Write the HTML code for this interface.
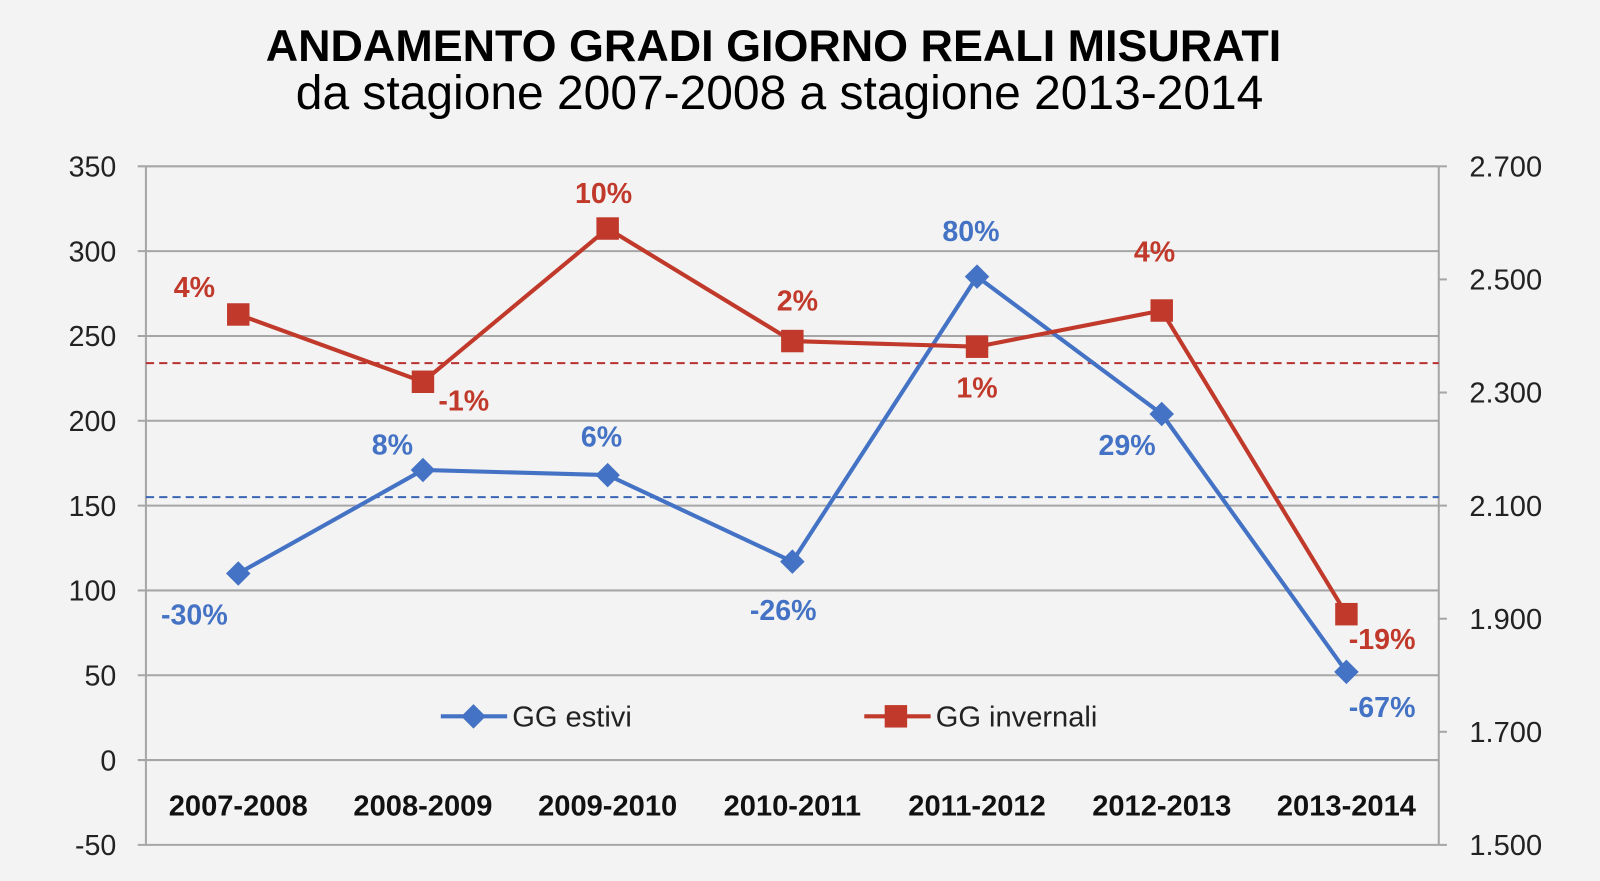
<!DOCTYPE html>
<html><head><meta charset="utf-8"><style>
body{margin:0;background:#f3f3f3;}
svg{display:block;font-family:"Liberation Sans",sans-serif;}
</style></head><body>
<svg width="1600" height="881" viewBox="0 0 1600 881">
<rect width="1600" height="881" fill="#f3f3f3"/>
<g transform="scale(1.0204)">
<text x="758" y="60" text-anchor="middle" font-size="44" font-weight="bold" fill="#000">ANDAMENTO GRADI GIORNO REALI MISURATI</text>
<text x="764" y="107" text-anchor="middle" font-size="47" fill="#000">da stagione 2007-2008 a stagione 2013-2014</text>
<g id="plot"></g>
</g>
</svg>
<script>
const categories=["2007-2008","2008-2009","2009-2010","2010-2011","2011-2012","2012-2013","2013-2014"];
const estivi=[110,171,168,117,285,204,52];
const invernali=[2438,2319,2590,2391,2381,2445,1908];
const estiviPct=["-30%","8%","6%","-26%","80%","29%","-67%"];
const invernaliPct=["4%","-1%","10%","2%","1%","4%","-19%"];
const estiviAvg=155;
const invernaliAvg=2352;
const leftTicks=[-50,0,50,100,150,200,250,300,350];
const rightTicks=[1500,1700,1900,2100,2300,2500,2700];
const estiviOff=[[-43,40],[-30,-25],[-6,-38],[-9,47],[-6,-45],[-34,30],[35,34]];
const invernaliOff=[[-43,-27],[40,18],[-4,-35],[5,-40],[0,40],[-7,-58],[35,24]];

const NS="http://www.w3.org/2000/svg";
const g=document.getElementById('plot');
const X0=143,X1=1410,YT=163,YB=828;
const yL=v=>YB-(v+50)/400*(YB-YT);
const yR=v=>YB-(v-1500)/1200*(YB-YT);
const xC=i=>X0+(i+0.5)*(X1-X0)/categories.length;
function el(t,a,p){const e=document.createElementNS(NS,t);for(const k in a)e.setAttribute(k,a[k]);(p||g).appendChild(e);return e;}
leftTicks.forEach(v=>{
 const l=el('line',{x1:X0-8,x2:X1,y1:yL(v),y2:yL(v),stroke:'#a6a6a6','stroke-width':2});
 
 
 const t=el('text',{x:114,y:yL(v)+10,'text-anchor':'end','font-size':28,fill:'#222'});
 t.textContent=v;
 
 
});
rightTicks.forEach(v=>{
 const t=el('text',{x:1440,y:yR(v)+10,'font-size':28.5,fill:'#222'});
 t.textContent=(v/1000).toFixed(3);
 
 
 const l=el('line',{x1:X1,x2:X1+8,y1:yR(v),y2:yR(v),stroke:'#a6a6a6','stroke-width':2});
 
 
});
const la=el('line',{x1:X0,x2:X0,y1:YT,y2:YB,stroke:'#a6a6a6','stroke-width':2});


const ra=el('line',{x1:X1,x2:X1,y1:YT,y2:YB,stroke:'#a6a6a6','stroke-width':2});


categories.forEach((c,i)=>{
 const t=el('text',{x:xC(i),y:799,'text-anchor':'middle','font-size':28.5,'font-weight':'bold',fill:'#111'});
 t.textContent=c;
 
 
});
const da=el('line',{x1:X0,x2:X1,y1:yL(estiviAvg),y2:yL(estiviAvg),stroke:'#3a64b4','stroke-width':2,'stroke-dasharray':'8,5'});


const db=el('line',{x1:X0,x2:X1,y1:yR(invernaliAvg),y2:yR(invernaliAvg),stroke:'#b83030','stroke-width':2,'stroke-dasharray':'8,5'});


const BLUE='#4472c4',RED='#c0392b';
const pb=el('polyline',{points:estivi.map((v,i)=>xC(i)+','+yL(v)).join(' '),fill:'none',stroke:BLUE,'stroke-width':4});


const pr=el('polyline',{points:invernali.map((v,i)=>xC(i)+','+yR(v)).join(' '),fill:'none',stroke:RED,'stroke-width':4});


function diamond(x,y,s){return el('path',{d:`M${x},${y-s}L${x+s},${y}L${x},${y+s}L${x-s},${y}Z`,fill:BLUE});}
function square(x,y,s){return el('rect',{x:x-s,y:y-s,width:2*s,height:2*s,fill:RED});}
estivi.forEach((v,i)=>{
 const m=diamond(xC(i),yL(v),12);
 
 
 const t=el('text',{x:xC(i)+estiviOff[i][0],y:yL(v)+estiviOff[i][1]+10,'text-anchor':'middle','font-size':28,'font-weight':'bold',fill:BLUE});
 t.textContent=estiviPct[i];
 
 
});
invernali.forEach((v,i)=>{
 const m=square(xC(i),yR(v),11);
 
 
 const t=el('text',{x:xC(i)+invernaliOff[i][0],y:yR(v)+invernaliOff[i][1]+10,'text-anchor':'middle','font-size':28,'font-weight':'bold',fill:RED});
 t.textContent=invernaliPct[i];
 
 
});
const lg1=el('g',{});


el('line',{x1:432,x2:497,y1:702,y2:702,stroke:BLUE,'stroke-width':4},lg1);
el('path',{d:'M464,690L476,702L464,714L452,702Z',fill:BLUE},lg1);
const t1=el('text',{x:502,y:712,'font-size':28.5,fill:'#222'},lg1);t1.textContent='GG estivi';
const lg2=el('g',{});


el('line',{x1:847,x2:912,y1:702,y2:702,stroke:RED,'stroke-width':4},lg2);
el('rect',{x:867,y:691,width:22,height:22,fill:RED},lg2);
const t2=el('text',{x:917,y:712,'font-size':28.5,fill:'#222'},lg2);t2.textContent='GG invernali';
</script>
</body></html>
